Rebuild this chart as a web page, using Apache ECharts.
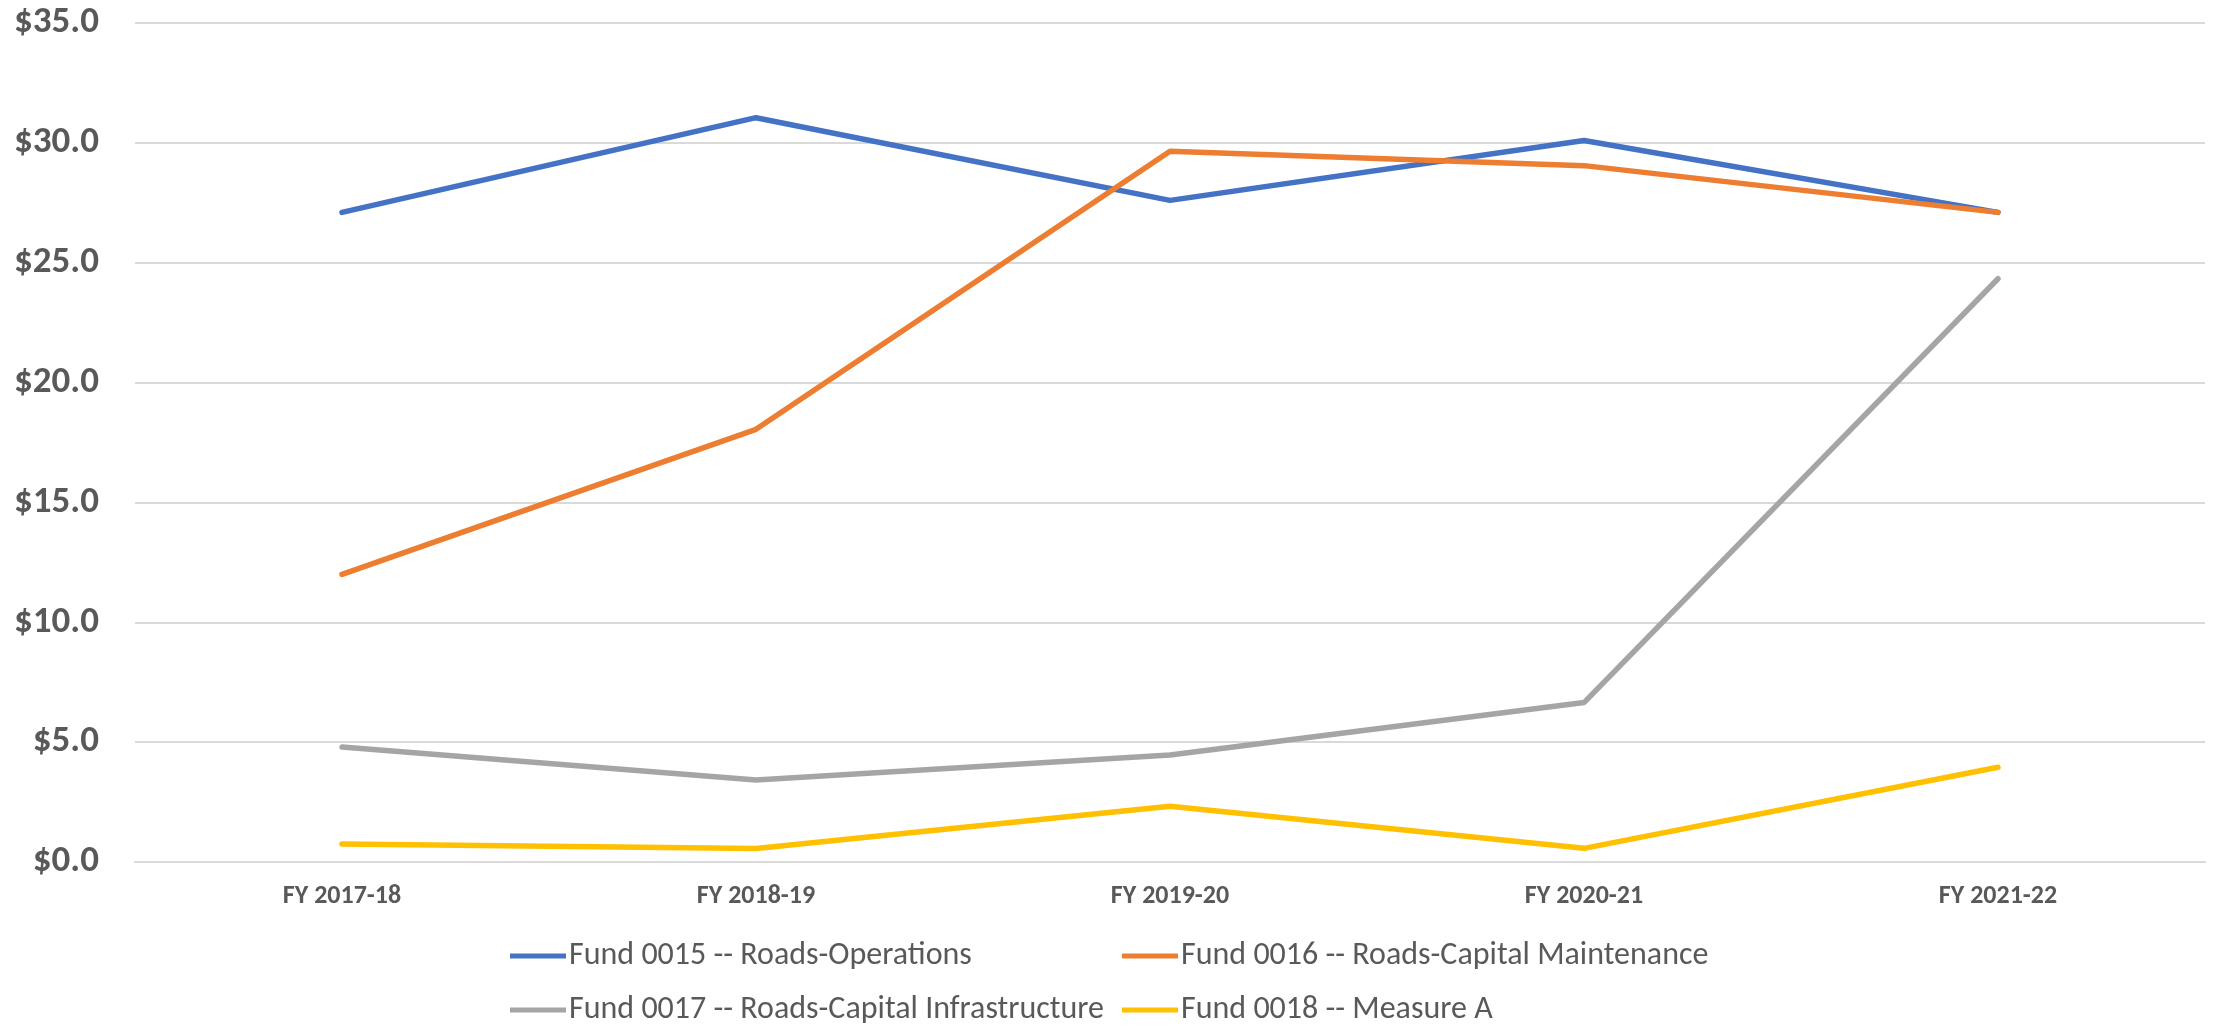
<!DOCTYPE html>
<html>
<head>
<meta charset="utf-8">
<script src="https://cdn.jsdelivr.net/npm/echarts@6/dist/echarts.min.js"></script>
<style>
  html, body { margin: 0; padding: 0; background: #fff; }
  #chart { width: 2218px; height: 1026px; }
</style>
</head>
<body>
<div id="chart"></div>
<script>
var years = ['FY 2017-18', 'FY 2018-19', 'FY 2019-20', 'FY 2020-21', 'FY 2021-22'];
var roadsOps = [27.1, 31.05, 27.6, 30.1, 27.1];
var capMaint = [12.0, 18.05, 29.65, 29.05, 27.1];
var capInfra = [4.8, 3.42, 4.46, 6.65, 24.33];
var measureA = [0.75, 0.56, 2.33, 0.57, 3.95];
var yTicks = { min: 0, max: 35, step: 5 };
var names = [
    'Fund 0015 -- Roads-Operations',
    'Fund 0016 -- Roads-Capital Maintenance',
    'Fund 0017 -- Roads-Capital Infrastructure',
    'Fund 0018 -- Measure A'
];
var colors = ['#4472C4', '#ED7D31', '#A5A5A5', '#FFC000'];

var font = 'Carlito, Calibri, "Liberation Sans Narrow", "DejaVu Sans Condensed", sans-serif';
var textColor = '#595959';

function line(i, data) {
    return {
        name: names[i],
        type: 'line',
        data: data,
        showSymbol: false,
        symbol: 'none',
        color: colors[i],
        lineStyle: { width: 5.5, color: colors[i], cap: 'round' },
        emphasis: { disabled: true }
    };
}

// one legend per item so the two columns line up like the original
function legendItem(i, left, top) {
    return {
        left: left,
        top: top,
        padding: 0,
        itemWidth: 56,
        itemHeight: 5,
        icon: 'rect',
        textStyle: { color: textColor, fontSize: 32, fontFamily: font, padding: [0, 0, 0, -2] },
        data: [names[i]]
    };
}

var chart = echarts.init(document.getElementById('chart'));
chart.setOption({
    animation: false,
    textStyle: { fontFamily: font },
    grid: { left: 135, right: 13, top: 23, bottom: 164 },
    xAxis: {
        type: 'category',
        data: years,
        axisLine: { lineStyle: { color: '#D9D9D9', width: 2 } },
        axisTick: { show: false },
        axisLabel: { color: textColor, fontSize: 26, fontWeight: 'bold', fontFamily: font, margin: 21 }
    },
    yAxis: {
        type: 'value',
        min: yTicks.min,
        max: yTicks.max,
        interval: yTicks.step,
        axisLine: { show: false },
        axisTick: { show: false },
        splitLine: { lineStyle: { color: '#D9D9D9', width: 2 } },
        axisLabel: {
            color: textColor, fontSize: 37, fontWeight: 'bold', fontFamily: font, margin: 36,
            formatter: function (v) { return '$' + v.toFixed(1); }
        }
    },
    legend: [
        legendItem(0, 510, 940),
        legendItem(1, 1122, 940),
        legendItem(2, 510, 994),
        legendItem(3, 1122, 994)
    ],
    series: [
        line(0, roadsOps),
        line(1, capMaint),
        line(2, capInfra),
        line(3, measureA)
    ]
});
</script>
</body>
</html>
